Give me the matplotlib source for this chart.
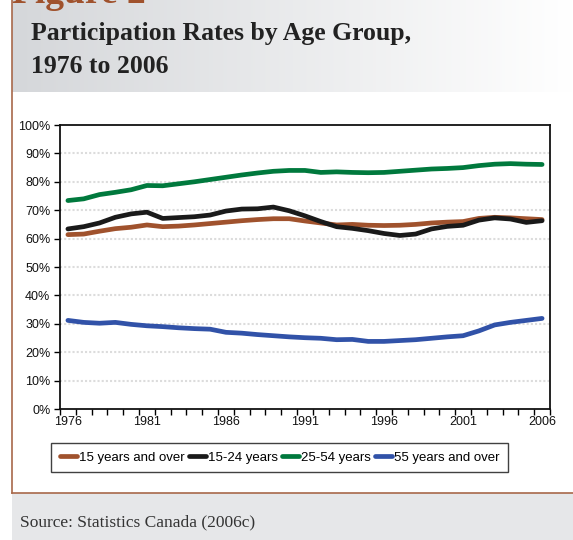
import numpy as np
import matplotlib
matplotlib.use("Agg")
import matplotlib.pyplot as plt
from matplotlib.lines import Line2D
from matplotlib.patches import Rectangle

# Participation rates (%), 1976-2006
years = list(range(1976, 2007))
age_15_over = [61.4, 61.6, 62.6, 63.5, 64.0, 64.8, 64.2, 64.4, 64.8, 65.3,
               65.8, 66.3, 66.7, 67.0, 67.0, 66.2, 65.5, 64.8, 65.0, 64.7,
               64.6, 64.7, 65.0, 65.5, 65.8, 66.0, 67.1, 67.5, 67.3, 67.0,
               66.7]
age_15_24 = [63.4, 64.2, 65.5, 67.5, 68.7, 69.3, 67.1, 67.4, 67.7, 68.3,
             69.7, 70.4, 70.5, 71.1, 69.8, 68.0, 66.0, 64.2, 63.6, 62.8,
             61.8, 61.1, 61.6, 63.4, 64.3, 64.7, 66.5, 67.3, 66.9, 65.7,
             66.3]
age_25_54 = [73.4, 74.0, 75.5, 76.3, 77.2, 78.7, 78.6, 79.3, 80.0, 80.8,
             81.6, 82.4, 83.1, 83.7, 84.0, 84.0, 83.3, 83.5, 83.3, 83.2,
             83.3, 83.7, 84.1, 84.5, 84.7, 85.0, 85.7, 86.2, 86.4, 86.2,
             86.1]
age_55_over = [31.2, 30.5, 30.2, 30.5, 29.8, 29.3, 29.0, 28.6, 28.3, 28.1,
               27.0, 26.7, 26.2, 25.8, 25.4, 25.1, 24.9, 24.4, 24.5, 23.8,
               23.8, 24.1, 24.4, 24.9, 25.4, 25.8, 27.5, 29.6, 30.5, 31.2,
               31.9]

series_names = ["15 years and over", "15-24 years", "25-54 years", "55 years and over"]
series_colors = ["#a0522d", "#1a1a1a", "#00793d", "#3152a8"]
series_values = [age_15_over, age_15_24, age_25_54, age_55_over]

W, H = 573, 540
fig = plt.figure(figsize=(W / 100, H / 100), dpi=100)
fig.patch.set_facecolor("white")

# header band with grey-to-white gradient
hdr = fig.add_axes([12 / W, 1 - 92 / H, 1 - 12 / W, 92 / H])
grad = np.linspace(0, 1, 256)[None, :]
c0 = np.array([0.835, 0.843, 0.855])
img = c0[None, None, :] * (1 - grad[..., None]) + np.ones(3)[None, None, :] * grad[..., None]
hdr.imshow(img, aspect="auto", extent=[0, 1, 0, 1])
hdr.set_axis_off()

# footer panel
fig.patches.append(Rectangle((12 / W, 0), 1 - 12 / W, 47 / H, transform=fig.transFigure,
                             facecolor="#e6e7e9", edgecolor="none", zorder=0))
fig.add_artist(Line2D([12 / W, 1], [47 / H, 47 / H], color="#a8684a", lw=1.2))
fig.add_artist(Line2D([12 / W, 12 / W], [47 / H, 1], color="#a8684a", lw=1.2))

serif = ["Liberation Serif", "DejaVu Serif"]
fig.text(12 / W, 1 - 3 / H, "Figure 2", family=serif, weight="bold", fontsize=27,
         color="#a0522d", va="baseline", ha="left")
fig.text(31 / W, 1 - 40 / H, "Participation Rates by Age Group,", family=serif,
         weight="bold", fontsize=18.5, color="#222222", va="baseline")
fig.text(31 / W, 1 - 73 / H, "1976 to 2006", family=serif,
         weight="bold", fontsize=18.5, color="#222222", va="baseline")
fig.text(20 / W, 14 / H, "Source: Statistics Canada (2006c)", family=serif,
         fontsize=12.5, color="#333333", va="baseline")

# chart
ax = fig.add_axes([60 / W, 131 / H, 490 / W, 284 / H])
x = np.arange(len(years))
for vals, col, name in zip(series_values, series_colors, series_names):
    ax.plot(x, vals, color=col, lw=3.4, label=name, solid_capstyle="round",
            solid_joinstyle="round", zorder=3)

ax.set_xlim(-0.5, len(years) - 0.5)
ax.set_ylim(0, 100)
ax.set_yticks(np.arange(0, 101, 10))
ax.set_yticklabels([f"{v}%" for v in range(0, 101, 10)])
label_pos = x[::5]
ax.set_xticks(label_pos)
ax.set_xticklabels([str(years[i]) for i in label_pos])
ax.set_xticks(np.arange(-0.5, len(years)), minor=True)
ax.tick_params(axis="x", which="major", length=0, pad=5)
ax.tick_params(axis="x", which="minor", length=4, width=1, direction="out")
ax.tick_params(axis="y", length=4, width=1, direction="out", pad=3)
for lab in ax.get_xticklabels() + ax.get_yticklabels():
    lab.set_family(["Liberation Sans", "DejaVu Sans"])
    lab.set_fontsize(9)
    lab.set_color("#111111")

for v in range(10, 100, 10):
    ax.axhline(v, color="#dcdcdc", lw=1.5, ls=(0, (1, 1)), zorder=1)
for s in ax.spines.values():
    s.set_linewidth(1.3)
    s.set_color("#111111")

leg = fig.legend(loc="center", bbox_to_anchor=(279.5 / W, 1 - 457.5 / H), ncol=4,
                 frameon=True, fancybox=False, handlelength=1.3, handletextpad=0.15,
                 columnspacing=0.3, borderpad=0.65, borderaxespad=0,
                 prop={"family": ["Liberation Sans", "DejaVu Sans"], "size": 9.5})
leg.get_frame().set_edgecolor("#111111")
leg.get_frame().set_linewidth(1.0)

fig.savefig("out.png", dpi=100)
